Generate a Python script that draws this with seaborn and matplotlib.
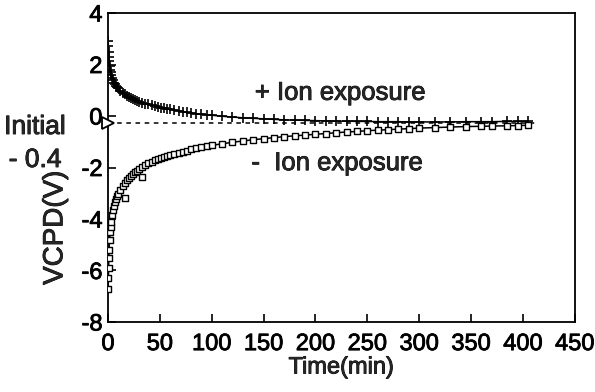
import matplotlib
matplotlib.use("Agg")
import matplotlib.pyplot as plt
import matplotlib.patheffects as pe
import seaborn as sns
import pandas as pd

# ---- data ----
time_min = [0.2, 0.4, 0.6, 0.8, 1, 1.5, 2, 2.5, 3, 4, 5, 6, 7, 8, 9, 10, 12, 14, 16, 18,
            20, 22, 24, 26, 28, 30, 33, 36, 39, 42, 45, 48, 51, 54, 57, 60, 64, 68, 72, 76,
            80, 85, 90, 95, 100, 110, 120, 130, 140, 150, 160, 170, 180, 190, 200, 210, 220,
            230, 240, 250, 260, 270, 280, 290, 300, 315, 330, 345, 360, 370, 385, 395, 405]
pos_ion_v = [2.9, 2.7, 2.5, 2.3, 2.15, 1.95, 1.8, 1.7, 1.6, 1.48, 1.38, 1.3, 1.24, 1.18, 1.12,
             1.07, 0.98, 0.9, 0.84, 0.78, 0.74, 0.7, 0.66, 0.62, 0.59, 0.56, 0.52, 0.48, 0.45,
             0.42, 0.39, 0.36, 0.33, 0.31, 0.28, 0.26, 0.23, 0.2, 0.17, 0.14, 0.12, 0.09, 0.07,
             0.05, 0.03, -0.01, -0.04, -0.07, -0.09, -0.11, -0.13, -0.15, -0.16, -0.17, -0.18,
             -0.19, -0.2, -0.2, -0.21, -0.21, -0.22, -0.22, -0.22, -0.23, -0.23, -0.23, -0.23,
             -0.22, -0.22, -0.22, -0.21, -0.21, -0.2]
neg_ion_v = [-6.7, -6.3, -5.9, -5.5, -5.2, -4.8, -4.5, -4.3, -4.1, -3.85, -3.65, -3.5, -3.35,
             -3.22, -3.12, -3.02, -2.86, -2.72, -2.6, -2.5, -2.41, -2.33, -2.25, -2.18, -2.12,
             -2.06, -1.98, -1.9, -1.84, -1.78, -1.72, -1.67, -1.62, -1.58, -1.54, -1.5, -1.46,
             -1.42, -1.38, -1.34, -1.3, -1.26, -1.22, -1.18, -1.14, -1.08, -1.02, -0.97, -0.92,
             -0.88, -0.84, -0.8, -0.77, -0.74, -0.71, -0.68, -0.65, -0.62, -0.6, -0.57, -0.55,
             -0.53, -0.51, -0.49, -0.47, -0.45, -0.43, -0.41, -0.4, -0.39, -0.38, -0.37, -0.36]
neg_outlier_t = [16, 33]
neg_outlier_v = [-3.2, -2.37]
initial_v = -0.27
initial_line_t = [0, 415]

x_ticks = [0, 50, 100, 150, 200, 250, 300, 350, 400, 450]
y_ticks = [-8, -6, -4, -2, 0, 2, 4]

df = pd.DataFrame({"t": time_min, "pos": pos_ion_v, "neg": neg_ion_v})
df_out = pd.DataFrame({"t": neg_outlier_t, "v": neg_outlier_v})

# ---- style ----
sns.set_style("ticks")
plt.rcParams["font.family"] = ["Liberation Sans", "DejaVu Sans"]
plt.rcParams["axes.unicode_minus"] = False
thick = [pe.withStroke(linewidth=0.6, foreground="black")]

fig = plt.figure(figsize=(5.95, 3.92), dpi=100)
ax = fig.add_axes([0.1815, 0.1786, 0.7845, 0.7882])

# fit lines
sns.lineplot(data=df, x="t", y="pos", ax=ax, color="black", lw=1.1, estimator=None)
sns.lineplot(data=df, x="t", y="neg", ax=ax, color="black", lw=1.1, estimator=None)
# markers
sns.scatterplot(data=df, x="t", y="pos", ax=ax, marker="+", s=55, color="black",
                linewidth=1.2, zorder=3)
sns.scatterplot(data=df, x="t", y="neg", ax=ax, marker="s", s=20, facecolor="white",
                edgecolor="black", linewidth=1.0, zorder=3)
sns.scatterplot(data=df_out, x="t", y="v", ax=ax, marker="s", s=20, facecolor="white",
                edgecolor="black", linewidth=1.0, zorder=3)

# initial dashed level
ax.plot(initial_line_t, [initial_v, initial_v], ls=(0, (3, 3)), color="black", lw=1.1)
ax.plot([0], [initial_v], marker=">", ms=9, mfc="white", mec="black", mew=1.3,
        clip_on=False, zorder=5)

ax.set_xlim(0, 450)
ax.set_ylim(-8, 4)
ax.set_xticks(x_ticks)
ax.set_yticks(y_ticks)
ax.set_xticklabels([str(v) for v in x_ticks])
ax.set_yticklabels([str(v) for v in y_ticks])
ax.tick_params(direction="in", length=6, width=1.2, labelsize=17, colors="black")
ax.tick_params(axis="x", pad=8)
ax.tick_params(axis="y", pad=4)
for lab in ax.get_xticklabels() + ax.get_yticklabels():
    lab.set_path_effects(thick)
for s in ax.spines.values():
    s.set_visible(True)
    s.set_linewidth(1.3)
    s.set_color("black")

ax.set_xlabel("Time(min)", fontsize=17, labelpad=1, path_effects=thick)
ax.set_ylabel("VCPD(V)", fontsize=20, path_effects=thick)
ax.yaxis.set_label_coords(-0.085, 0.305)

ax.text(224, 0.9, "+ Ion exposure", fontsize=18.5, ha="center", va="center",
        path_effects=thick)
ax.text(221, -1.83, "-  Ion exposure", fontsize=18.5, ha="center", va="center",
        path_effects=thick)

fig.text(35 / 595, 1 - 127 / 392, "Initial", fontsize=19, ha="center", va="center",
         path_effects=thick)
fig.text(35 / 595, 1 - 160 / 392, "- 0.4", fontsize=19, ha="center", va="center",
         path_effects=thick)

fig.savefig("out.png", dpi=100)
